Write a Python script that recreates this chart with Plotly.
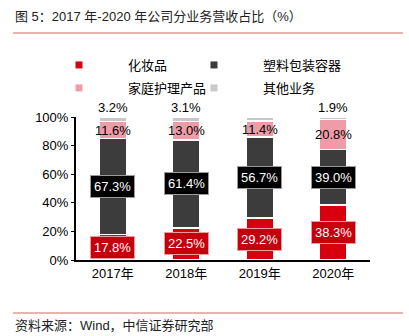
import plotly.graph_objects as go

years = ["2017年", "2018年", "2019年", "2020年"]
cosmetics = [17.8, 22.5, 29.2, 38.3]
plastic = [67.3, 61.4, 56.7, 39.0]
homecare = [11.6, 13.0, 11.4, 20.8]
other = [3.2, 3.1, 2.8, 1.9]
names = ["化妆品", "塑料包装容器", "家庭护理产品", "其他业务"]
y_ticks = [0, 20, 40, 60, 80, 100]

FONT = "Liberation Sans, Arial, Noto Sans CJK SC, sans-serif"
colors = ["#d7000f", "#3c3c3c", "#ee9ca7", "#c8c8c8"]
series = [cosmetics, plastic, homecare, other]

fig = go.Figure()
for name, vals, col in zip(names, series, colors):
    fig.add_trace(go.Bar(x=years, y=vals, name=name, marker=dict(color=col, line=dict(color="white", width=1.5)),
                         width=0.38, showlegend=False, hoverinfo="skip"))

# legend proxies, one legend per entry
legend_ids = ["legend", "legend2", "legend3", "legend4"]
for name, col, lg in zip(names, colors, legend_ids):
    fig.add_trace(go.Scatter(x=[None], y=[None], mode="markers", name=name,
                             marker=dict(symbol="square", size=7, color=col), legend=lg))

ann = []
for i, yr in enumerate(years):
    c, p, h, o = cosmetics[i], plastic[i], homecare[i], other[i]
    ann.append(dict(x=yr, y=c / 2, text=f"{c:.1f}%", showarrow=False, font=dict(color="white", size=13, family=FONT),
                    bgcolor="#c4000c", bordercolor="#f09aa0", borderwidth=1, borderpad=3))
    ann.append(dict(x=yr, y=c + p / 2, text=f"{p:.1f}%", showarrow=False, font=dict(color="white", size=13, family=FONT),
                    bgcolor="#000000", bordercolor="#9a9a9a", borderwidth=1, borderpad=3))
    ann.append(dict(x=yr, y=c + p + h / 2, text=f"{h:.1f}%", showarrow=False, font=dict(color="black", size=13, family=FONT)))
    ann.append(dict(x=yr, y=c + p + h + o, text=f"{o:.1f}%", showarrow=False, yanchor="bottom",
                    font=dict(color="black", size=13, family=FONT)))

leg_common = dict(orientation="h", xref="container", yref="container",
                  xanchor="left", yanchor="middle", itemwidth=88, traceorder="normal",
                  font=dict(size=13, family=FONT), bgcolor="rgba(0,0,0,0)", tracegroupgap=0)
leg_pos = [(30, 65), (165, 65), (30, 88), (165, 88)]

fig.update_layout(
    width=409, height=336,
    margin=dict(l=76, r=39, t=117, b=76, autoexpand=False),
    barmode="stack",
    plot_bgcolor="white", paper_bgcolor="white",
    font=dict(family=FONT, size=13, color="black"),
    xaxis=dict(showline=True, linecolor="black", linewidth=2, ticks="", tickfont=dict(size=13), showgrid=False),
    yaxis=dict(range=[0, 100], tickvals=y_ticks, ticktext=[f"{v}%" for v in y_ticks], showline=True,
               linecolor="black", linewidth=2, ticks="outside", ticklen=3, tickcolor="black",
               showgrid=False, zeroline=False, tickfont=dict(size=13)),
    annotations=ann,
)
for lg, (px, py) in zip(legend_ids, leg_pos):
    fig.update_layout({lg: dict(leg_common, x=px / 409, y=1 - py / 336)})

fig.add_annotation(xref="paper", yref="paper", x=(13 - 76) / 294, y=1 + (117 - 16) / 143,
                   xanchor="left", yanchor="middle", showarrow=False,
                   text="图 5：2017 年-2020 年公司分业务营收占比（%）", font=dict(size=13, color="#222", family=FONT))
fig.add_annotation(xref="paper", yref="paper", x=(13 - 76) / 294, y=1 - (325 - 117) / 143,
                   xanchor="left", yanchor="middle", showarrow=False,
                   text="资料来源：Wind，中信证券研究部", font=dict(size=13, color="#222", family=FONT))
fig.add_shape(type="line", xref="paper", yref="paper", x0=(13 - 76) / 294, x1=(403 - 76) / 294,
              y0=1 + (117 - 33) / 143, y1=1 + (117 - 33) / 143, line=dict(color="#e06060", width=1))
fig.add_shape(type="line", xref="paper", yref="paper", x0=(13 - 76) / 294, x1=(403 - 76) / 294,
              y0=1 - (313 - 117) / 143, y1=1 - (313 - 117) / 143, line=dict(color="#e06060", width=1))

fig.write_html("out.html")
